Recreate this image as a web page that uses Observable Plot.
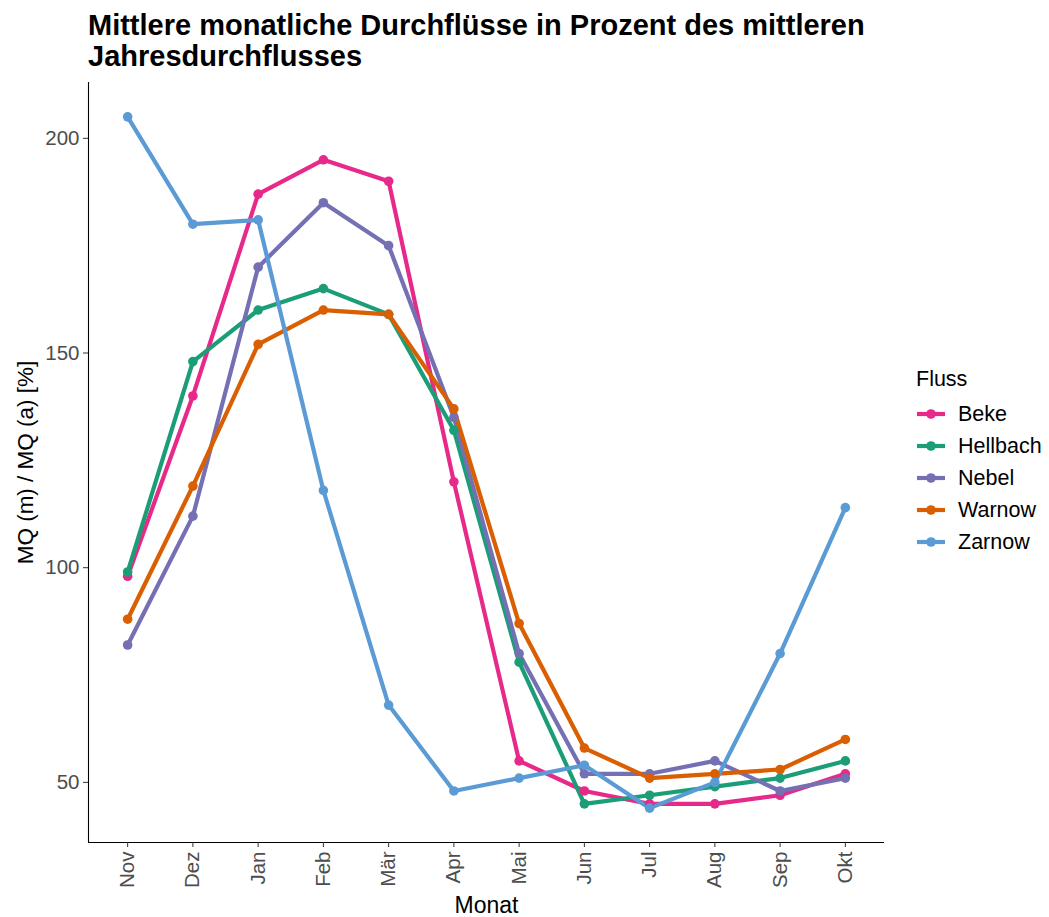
<!DOCTYPE html>
<html>
<head>
<meta charset="utf-8">
<script src="https://cdn.jsdelivr.net/npm/d3@7"></script>
<script src="https://cdn.jsdelivr.net/npm/@observablehq/plot@0.6"></script>
<style>
  body { margin: 0; background: #fff; font-family: "Liberation Sans", Arial, sans-serif; }
  #wrap { position: relative; width: 1049px; height: 917px; }
  #title { position: absolute; left: 88px; top: 10px; font-size: 29px; font-weight: bold; line-height: 31px; color: #000; white-space: nowrap; }
  #chart { position: absolute; left: 0; top: 75px; }
  #legend { position: absolute; left: 916px; top: 363px; font-size: 21.5px; color: #000; }
  #legend .head { height: 32px; line-height: 32px; margin-bottom: 3px; }
  #legend .item { display: flex; align-items: center; height: 32px; }
  #legend svg { margin-right: 12px; }
</style>
</head>
<body>
<div id="wrap">
  <div id="title">Mittlere monatliche Durchflüsse in Prozent des mittleren<br>Jahresdurchflusses</div>
  <div id="chart"></div>
  <div id="legend"></div>
</div>
<script>
const months = ["Nov","Dez","Jan","Feb","Mär","Apr","Mai","Jun","Jul","Aug","Sep","Okt"];
const rivers = ["Beke","Hellbach","Nebel","Warnow","Zarnow"];
const colors = ["#E7298A","#1B9E77","#7570B3","#D95F02","#5B9BD5"];
const beke     = [98, 140, 187, 195, 190, 120, 55, 48, 45, 45, 47, 52];
const hellbach = [99, 148, 160, 165, 159, 132, 78, 45, 47, 49, 51, 55];
const nebel    = [82, 112, 170, 185, 175, 135, 80, 52, 52, 55, 48, 51];
const warnow   = [88, 119, 152, 160, 159, 137, 87, 58, 51, 52, 53, 60];
const zarnow   = [205, 180, 181, 118, 68, 48, 51, 54, 44, 50, 80, 114];
const yTicks = [50, 100, 150, 200];

const series = [beke, hellbach, nebel, warnow, zarnow];
const data = [];
rivers.forEach((r, i) => series[i].forEach((v, j) => data.push({river: r, m: j, v})));

const tickColor = "#4D4D4D";
const chart = Plot.plot({
  width: 900,
  height: 842,
  marginTop: 7,
  marginBottom: 75,
  marginLeft: 88,
  marginRight: 16,
  style: {fontFamily: "Liberation Sans, Arial, sans-serif", fontSize: "20px", background: "#fff"},
  x: {type: "linear", domain: [-0.6, months.length - 1 + 0.6]},
  y: {domain: [36, 213]},
  color: {domain: rivers, range: colors},
  marks: [
    Plot.ruleX([-0.6], {stroke: "#000", strokeWidth: 1.1}),
    Plot.ruleY([36], {stroke: "#000", strokeWidth: 1.1}),
    Plot.axisY({ticks: yTicks, tickSize: 5, tickPadding: 4, label: null, color: tickColor, fontSize: 20.5, stroke: "#333"}),
    Plot.axisX({ticks: d3.range(months.length), tickFormat: i => months[i], tickRotate: -90, tickSize: 5, tickPadding: 4, label: null, color: tickColor, fontSize: 20.5, stroke: "#333"}),
    Plot.line(data, {x: "m", y: "v", z: "river", stroke: "river", strokeWidth: 4.2}),
    Plot.dot(data, {x: "m", y: "v", fill: "river", r: 4.8}),
    Plot.text(["Monat"], {frameAnchor: "bottom", dy: 70, fontSize: 23, fill: "#000"}),
    Plot.text(["MQ (m) / MQ (a) [%]"], {frameAnchor: "left", textAnchor: "middle", dx: -63, rotate: -90, fontSize: 22.5, fill: "#000"})
  ]
});
document.getElementById("chart").appendChild(chart);

const leg = document.getElementById("legend");
const head = document.createElement("div");
head.className = "head";
head.textContent = "Fluss";
leg.appendChild(head);
rivers.forEach((r, i) => {
  const it = document.createElement("div");
  it.className = "item";
  it.innerHTML = `<svg width="30" height="20"><line x1="1" x2="29" y1="10" y2="10" stroke="${colors[i]}" stroke-width="4.2"/><circle cx="15" cy="10" r="4.8" fill="${colors[i]}"/></svg><span>${r}</span>`;
  leg.appendChild(it);
});
</script>
</body>
</html>
